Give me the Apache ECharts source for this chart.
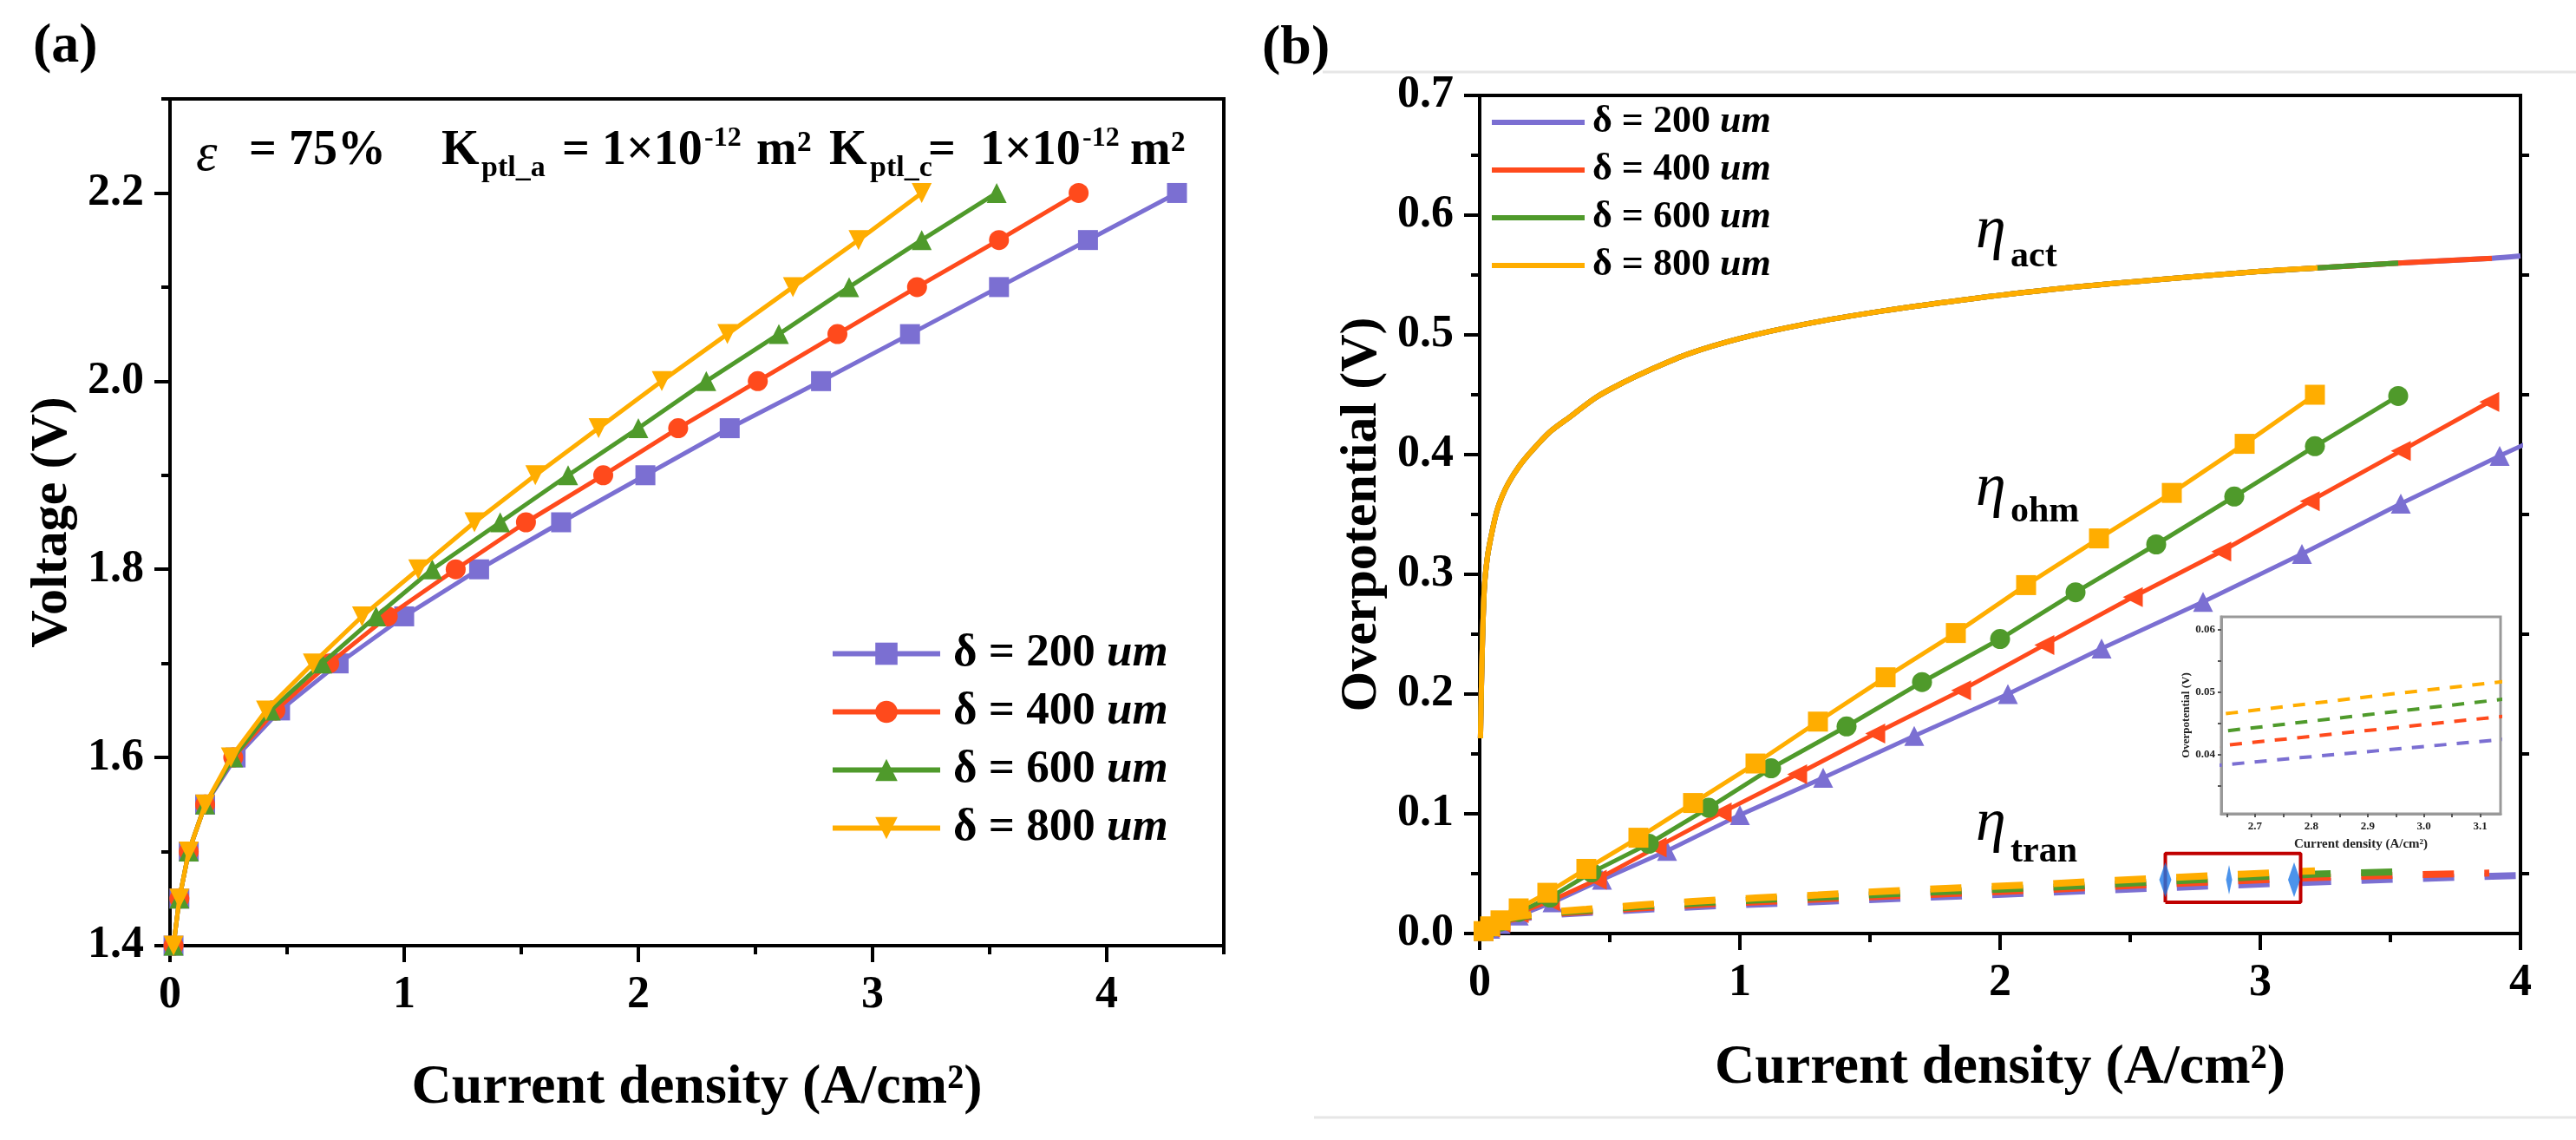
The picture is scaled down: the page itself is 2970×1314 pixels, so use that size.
<!DOCTYPE html>
<html>
<head>
<meta charset="utf-8">
<script src="https://cdn.jsdelivr.net/npm/echarts@6/dist/echarts.min.js"></script>
<style>
  html, body { margin: 0; padding: 0; background: #fff; }
  #chart { width: 2970px; height: 1314px; }
</style>
</head>
<body>
<div id="chart"></div>
<script>
// ---------- data ----------
const thickness = ['200', '400', '600', '800'];
const colors = ['#7b6fd2', '#ff4a1c', '#4f9a2b', '#ffad00'];

// (a) polarisation curves, one marker every 0.05 V
const voltage = [1.40, 1.45, 1.50, 1.55, 1.60, 1.65, 1.70, 1.75, 1.80, 1.85, 1.90, 1.95, 2.00, 2.05, 2.10, 2.15, 2.20];
const j200 = [0.015, 0.04, 0.08, 0.15, 0.28, 0.47, 0.72, 1.00, 1.32, 1.67, 2.03, 2.39, 2.78, 3.16, 3.54, 3.92, 4.30];
const j400 = [0.015, 0.04, 0.08, 0.15, 0.27, 0.45, 0.68, 0.93, 1.22, 1.52, 1.85, 2.17, 2.51, 2.85, 3.19, 3.54, 3.88];
const j600 = [0.015, 0.04, 0.08, 0.15, 0.27, 0.43, 0.65, 0.88, 1.12, 1.41, 1.70, 2.00, 2.29, 2.60, 2.90, 3.21, 3.53];
const j800 = [0.015, 0.04, 0.08, 0.15, 0.26, 0.41, 0.61, 0.82, 1.06, 1.30, 1.56, 1.83, 2.10, 2.38, 2.66, 2.94, 3.21];

// (b) activation overpotential (curves overlap, each stops at its last current density)
const actJ = [0.003, 0.008, 0.0175, 0.03, 0.047, 0.065, 0.084, 0.11, 0.151, 0.2, 0.27, 0.35, 0.449, 0.55, 0.657, 0.8, 1.0, 1.25, 1.55, 1.85, 2.2, 2.6, 3.0, 3.22, 3.53, 3.89, 4.0];
const actEta = [0.163, 0.22, 0.287, 0.315, 0.335, 0.352, 0.364, 0.376, 0.390, 0.403, 0.419, 0.432, 0.448, 0.460, 0.471, 0.484, 0.497, 0.509, 0.520, 0.529, 0.538, 0.546, 0.553, 0.556, 0.560, 0.564, 0.566];
const actEnd = [4.0, 3.89, 3.53, 3.22];

// (b) ohmic overpotential at the same current densities as (a)
const ohm200 = [0.002, 0.004, 0.008, 0.015, 0.026, 0.045, 0.069, 0.099, 0.130, 0.165, 0.200, 0.238, 0.277, 0.317, 0.359, 0.399, 0.437];
const ohm400 = [0.002, 0.005, 0.009, 0.017, 0.027, 0.045, 0.072, 0.101, 0.133, 0.167, 0.203, 0.241, 0.281, 0.319, 0.361, 0.403, 0.444];
const ohm600 = [0.002, 0.005, 0.010, 0.018, 0.030, 0.051, 0.075, 0.105, 0.138, 0.173, 0.210, 0.246, 0.285, 0.325, 0.365, 0.407, 0.449];
const ohm800 = [0.002, 0.006, 0.011, 0.021, 0.034, 0.054, 0.080, 0.109, 0.142, 0.177, 0.214, 0.251, 0.291, 0.330, 0.368, 0.409, 0.450];

// (b) transport overpotential, from the third current density on
const tran200 = [0.0100, 0.0125, 0.0158, 0.0183, 0.0213, 0.0240, 0.0268, 0.0298, 0.0330, 0.0362, 0.0395, 0.0426, 0.0455, 0.0480, 0.0500];
const tran400 = [0.0105, 0.0130, 0.0165, 0.0190, 0.0222, 0.0252, 0.0280, 0.0308, 0.0337, 0.0365, 0.0402, 0.0434, 0.0466, 0.0488, 0.0505];
const tran600 = [0.0110, 0.0137, 0.0172, 0.0196, 0.0232, 0.0260, 0.0287, 0.0313, 0.0343, 0.0370, 0.0396, 0.0433, 0.0464, 0.0496, 0.0515];
const tran800 = [0.0115, 0.0142, 0.0178, 0.0203, 0.0237, 0.0268, 0.0297, 0.0322, 0.0353, 0.0381, 0.0405, 0.0437, 0.0467, 0.0497, 0.0524];

// zoom box and its selection handles
const boxJ = [2.635, 3.155];
const boxEta = [0.026, 0.0668];
const handleJ = [2.635, 2.88, 3.13];
const handleEta = [0.045, 0.045, 0.045];

// ticks
const aXMajor = [0, 1, 2, 3, 4];
const aXMinor = [0.5, 1.5, 2.5, 3.5, 4.5];
const aYMajor = [1.4, 1.6, 1.8, 2.0, 2.2];
const aYMinor = [1.5, 1.7, 1.9, 2.1, 2.3];
const bXMajor = [0, 1, 2, 3, 4];
const bXMinor = [0.5, 1.5, 2.5, 3.5];
const bYMajor = [0, 0.1, 0.2, 0.3, 0.4, 0.5, 0.6, 0.7];
const bYMinor = [0.05, 0.15, 0.25, 0.35, 0.45, 0.55, 0.65];
const inXTicks = [2.65, 2.7, 2.75, 2.8, 2.85, 2.9, 2.95, 3.0, 3.05, 3.1];
const inXLabels = [2.7, 2.8, 2.9, 3.0, 3.1];
const inYTicks = [0.035, 0.04, 0.045, 0.05, 0.055, 0.06];
const inYLabels = [0.04, 0.05, 0.06];

// ---------- chart ----------
const FONT = "'Liberation Serif', 'Times New Roman', serif";
const jAll = [j200, j400, j600, j800];
const ohmAll = [ohm200, ohm400, ohm600, ohm800];
const tranAll = [tran200, tran400, tran600, tran800];

function pairs(xs, ys) {
  return xs.map((x, i) => [x, ys[i]]);
}

const chart = echarts.init(document.getElementById('chart'));

function mainX(grid, min, max, ticks, labels, nameGap) {
  return {
    type: 'value', gridIndex: grid, min: min, max: max, position: 'bottom',
    splitLine: { show: false },
    axisLine: { show: true, lineStyle: { color: '#000', width: 4 } },
    axisTick: { show: true, customValues: ticks, length: 19, lineStyle: { color: '#000', width: 4 } },
    axisLabel: {
      show: true, customValues: labels, margin: 32, color: '#000',
      fontSize: 52, fontWeight: 'bold', fontFamily: FONT,
      formatter: v => String(v)
    },
    name: 'Current density (A/cm²)', nameLocation: 'middle', nameGap: nameGap,
    nameTextStyle: { fontSize: 64, fontWeight: 'bold', fontFamily: FONT, color: '#000' }
  };
}
function minorAxis(grid, min, max, ticks, pos) {
  return {
    type: 'value', gridIndex: grid, min: min, max: max, position: pos,
    splitLine: { show: false },
    axisLine: { show: false },
    axisTick: { show: true, customValues: ticks, length: 10, lineStyle: { color: '#000', width: 4 } },
    axisLabel: { show: false }
  };
}
function mainY(grid, min, max, ticks, name, nameGap) {
  return {
    type: 'value', gridIndex: grid, min: min, max: max, position: 'left',
    splitLine: { show: false },
    axisLine: { show: true, lineStyle: { color: '#000', width: 4 } },
    axisTick: { show: true, customValues: ticks, length: 18, lineStyle: { color: '#000', width: 4 } },
    axisLabel: {
      show: true, customValues: ticks, margin: 30, color: '#000',
      fontSize: 52, fontWeight: 'bold', fontFamily: FONT,
      formatter: v => v.toFixed(1)
    },
    name: name, nameLocation: 'middle', nameGap: nameGap,
    nameTextStyle: { fontSize: 60, fontWeight: 'bold', fontFamily: FONT, color: '#000' }
  };
}

const xAxis = [
  mainX(0, 0, 4.5, aXMajor, aXMajor, 132),
  minorAxis(0, 0, 4.5, aXMinor, 'bottom'),
  mainX(1, 0, 4, bXMajor, bXMajor, 123),
  minorAxis(1, 0, 4, bXMinor, 'bottom'),
  {
    type: 'value', gridIndex: 2, min: 2.64, max: 3.136, position: 'bottom',
    splitLine: { show: false },
    axisLine: { show: true, lineStyle: { color: '#999', width: 3 } },
    axisTick: { show: true, customValues: inXTicks, length: 4, lineStyle: { color: '#555', width: 2 } },
    axisLabel: {
      show: true, customValues: inXLabels, margin: 8, color: '#222',
      fontSize: 13, fontWeight: 'bold', fontFamily: FONT, formatter: v => v.toFixed(1)
    },
    name: 'Current density (A/cm²)', nameLocation: 'middle', nameGap: 28,
    nameTextStyle: { fontSize: 15, fontWeight: 'bold', fontFamily: FONT, color: '#222' }
  }
];

const yAxis = [
  mainY(0, 1.4, 2.3, aYMajor, 'Voltage (V)', 106),
  minorAxis(0, 1.4, 2.3, aYMinor, 'left'),
  mainY(1, 0, 0.7, bYMajor, 'Overpotential (V)', 106),
  minorAxis(1, 0, 0.7, bYMinor, 'left'),
  minorAxis(1, 0, 0.7, bYMinor, 'right'),
  {
    type: 'value', gridIndex: 2, min: 0.0305, max: 0.0621, position: 'left',
    splitLine: { show: false },
    axisLine: { show: true, lineStyle: { color: '#999', width: 3 } },
    axisTick: { show: true, customValues: inYTicks, length: 4, lineStyle: { color: '#555', width: 2 } },
    axisLabel: {
      show: true, customValues: inYLabels, margin: 7, color: '#222',
      fontSize: 13, fontWeight: 'bold', fontFamily: FONT, formatter: v => v.toFixed(2)
    },
    name: 'Overpotential (V)', nameLocation: 'middle', nameGap: 34,
    nameTextStyle: { fontSize: 13, fontWeight: 'bold', fontFamily: FONT, color: '#222' }
  }
];

const series = [];
const symA = ['rect', 'circle', 'triangle', 'triangle'];
const rotA = [0, 0, 0, 180];
const symB = ['triangle', 'triangle', 'circle', 'rect'];
const rotB = [0, 90, 0, 0];

for (let i = 0; i < 4; i++) {
  series.push({
    name: 'a' + thickness[i], type: 'line', xAxisIndex: 0, yAxisIndex: 0,
    data: pairs(jAll[i], voltage),
    color: colors[i], symbol: symA[i], symbolRotate: rotA[i], symbolSize: 23,
    lineStyle: { width: 5 }, z: 3 + i
  });
}
for (let i = 0; i < 4; i++) {
  series.push({
    name: 'b' + thickness[i], type: 'line', xAxisIndex: 2, yAxisIndex: 2,
    data: pairs(actJ, actEta).filter(p => p[0] <= actEnd[i]),
    color: colors[i], symbol: 'none', smooth: 0.3,
    lineStyle: { width: 6 }, z: 3 + i
  });
}
for (let i = 0; i < 4; i++) {
  series.push({
    name: 'c' + thickness[i], type: 'line', xAxisIndex: 2, yAxisIndex: 2,
    data: pairs(jAll[i], ohmAll[i]),
    color: colors[i], symbol: symB[i], symbolRotate: rotB[i], symbolSize: 23,
    lineStyle: { width: 5 }, z: 3 + i
  });
}
for (let i = 0; i < 4; i++) {
  series.push({
    name: 'd' + thickness[i], type: 'line', xAxisIndex: 2, yAxisIndex: 2,
    data: pairs(jAll[i].slice(2), tranAll[i]),
    color: colors[i], symbol: 'none',
    lineStyle: { width: 8, type: [36, 35] }, z: 3 + i
  });
  series.push({
    name: 'e' + thickness[i], type: 'line', xAxisIndex: 4, yAxisIndex: 5,
    data: pairs(jAll[i].slice(2), tranAll[i]),
    color: colors[i], symbol: 'none',
    lineStyle: { width: 4, type: [14, 12] }, z: 10
  });
}
series.push({
  name: 'box', type: 'line', xAxisIndex: 2, yAxisIndex: 2, symbol: 'none',
  data: [[boxJ[0], boxEta[0]], [boxJ[1], boxEta[0]], [boxJ[1], boxEta[1]], [boxJ[0], boxEta[1]], [boxJ[0], boxEta[0]]],
  color: '#c00000', lineStyle: { width: 4 }, z: 9
});
const handleSize = [[14, 40], [7, 34], [14, 40]];
series.push({
  name: 'handles', type: 'scatter', xAxisIndex: 2, yAxisIndex: 2,
  data: pairs(handleJ, handleEta), symbol: 'diamond',
  symbolSize: (v, p) => handleSize[p.dataIndex],
  color: '#1e78e6', z: 10
});

function legendText(name) {
  return '{t|δ = ' + name.slice(1) + ' }{u|um}';
}

function txt(x, y, text, font, align) {
  return {
    type: 'text', x: x, y: y, z: 20,
    style: { text: text, font: font, fill: '#000', align: align || 'left', verticalAlign: 'middle' }
  };
}
const B56 = 'bold 56px ' + FONT;
const B34 = 'bold 34px ' + FONT;
const B32 = 'bold 32px ' + FONT;

const option = {
  animation: false,
  backgroundColor: '#fff',
  grid: [
    { left: 196, top: 114, width: 1215, height: 976, show: true, borderColor: '#000', borderWidth: 4, backgroundColor: 'transparent' },
    { left: 1706, top: 110, width: 1200, height: 966, show: true, borderColor: '#000', borderWidth: 4, backgroundColor: 'transparent' },
    { left: 2561, top: 711, width: 322, height: 227, show: true, borderColor: '#999', borderWidth: 3, backgroundColor: '#fff' }
  ],
  xAxis: xAxis,
  yAxis: yAxis,
  legend: [
    {
      data: thickness.map(t => 'a' + t), orient: 'vertical', left: 957, top: 727,
      padding: 0, itemWidth: 124, itemHeight: 32, itemGap: 14, selectedMode: false,
      lineStyle: { width: 6 },
      formatter: legendText,
      textStyle: {
        color: '#000', padding: [0, 0, 0, 10],
        rich: {
          t: { fontSize: 53, fontWeight: 'bold', fontFamily: FONT, lineHeight: 60, color: '#000' },
          u: { fontSize: 53, fontWeight: 'bold', fontStyle: 'italic', fontFamily: FONT, lineHeight: 60, color: '#000' }
        }
      }
    },
    {
      data: thickness.map(t => 'b' + t), orient: 'vertical', left: 1720, top: 119,
      padding: 0, itemWidth: 107, itemHeight: 6, itemGap: 11, icon: 'rect', selectedMode: false,
      formatter: legendText,
      textStyle: {
        color: '#000', padding: [0, 0, 0, 4],
        rich: {
          t: { fontSize: 44, fontWeight: 'bold', fontFamily: FONT, lineHeight: 50, color: '#000' },
          u: { fontSize: 44, fontWeight: 'bold', fontStyle: 'italic', fontFamily: FONT, lineHeight: 50, color: '#000' }
        }
      }
    }
  ],
  graphic: [
    { type: 'line', shape: { x1: 1525, y1: 83, x2: 2970, y2: 83 }, style: { stroke: '#e6e6e6', lineWidth: 3 } },
    { type: 'line', shape: { x1: 1515, y1: 1288, x2: 2970, y2: 1288 }, style: { stroke: '#e6e6e6', lineWidth: 3 } },
    txt(38, 54, '(a)', 'bold 64px ' + FONT),
    txt(1455, 56, '(b)', 'bold 64px ' + FONT),
    // panel (a) conditions
    txt(226, 180, 'ε', 'italic 62px ' + FONT),
    txt(287, 175, '= 75%', B56),
    txt(509, 175, 'K', B56),
    txt(555, 194, 'ptl_a', B34),
    txt(648, 175, '= 1×10', B56),
    txt(812, 160, '-12', B32),
    txt(872, 175, 'm²', B56),
    txt(956, 175, 'K', B56),
    txt(1003, 194, 'ptl_c', B34),
    txt(1070, 175, '=  1×10', B56),
    txt(1248, 160, '-12', B32),
    txt(1303, 175, 'm²', B56),
    // overpotential labels
    txt(2278, 267, 'η', 'italic 70px ' + FONT),
    txt(2318, 296, 'act', 'bold 42px ' + FONT),
    txt(2278, 564, 'η', 'italic 70px ' + FONT),
    txt(2318, 590, 'ohm', 'bold 42px ' + FONT),
    txt(2278, 950, 'η', 'italic 70px ' + FONT),
    txt(2318, 982, 'tran', 'bold 42px ' + FONT)
  ],
  series: series
};

chart.setOption(option);
</script>
</body>
</html>
